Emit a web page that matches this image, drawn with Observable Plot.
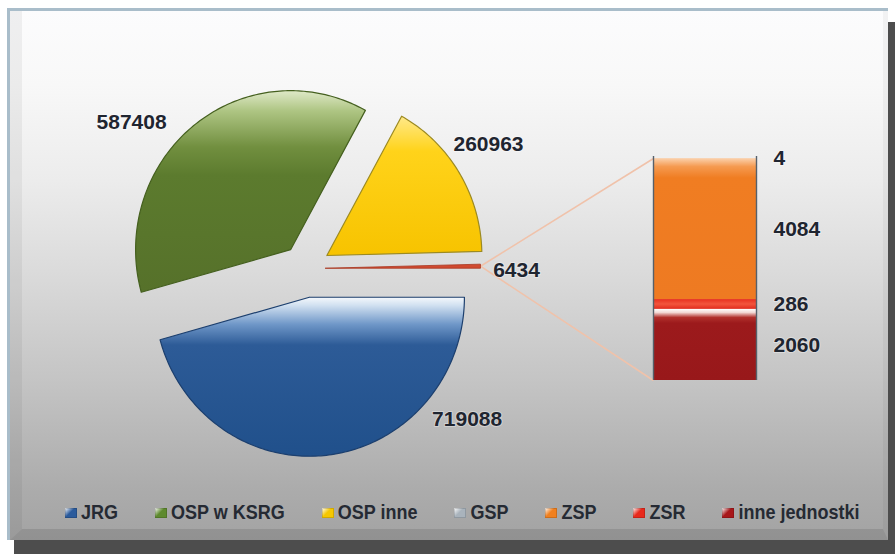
<!DOCTYPE html>
<html>
<head>
<meta charset="utf-8">
<script src="https://cdn.jsdelivr.net/npm/d3@7"></script>
<script src="https://cdn.jsdelivr.net/npm/@observablehq/plot@0.6"></script>
<style>
  html, body { margin: 0; padding: 0; width: 895px; height: 554px; background: #ffffff; overflow: hidden; }
  #frame {
    position: absolute; left: 7px; top: 8px; width: 881px; height: 532px; box-sizing: border-box;
    border-top: 3px solid #a9bdca; border-left: 3px solid #a9bdca;
    background: linear-gradient(to bottom, #fcfcfd 0%, #f8f8f8 14%, #ececec 32%, #dadada 50%, #c4c4c4 70%, #acacac 90%, #a3a3a3 100%);
    box-shadow: 7px 14px 0 #4d4d4d;
  }
  #bevel {
    position: absolute; left: 0; top: 0; right: 0; bottom: 0; box-sizing: border-box;
    border-left: 12px solid rgba(0,0,0,0.05); border-bottom: 11px solid rgba(0,0,0,0.10);
    border-right: 5px solid rgba(0,0,0,0.04);
  }
  #chart { position: absolute; left: 0; top: 0; }
  #legend {
    position: absolute; left: 65px; top: 498px; height: 28px; display: flex; align-items: center;
    font-family: "Liberation Sans", Arial, sans-serif;
    font-weight: bold; font-size: 18px; color: #252a33; white-space: nowrap;
  }
  .item { display: inline-flex; align-items: center; margin-right: 37px; }
  .sw { width: 12px; height: 10px; margin-right: 4px; margin-top: 2px; box-shadow: inset 0 0 0 1px rgba(0,0,0,0.15); }
  .tx { display: inline-block; transform: scaleY(1.15); }
</style>
</head>
<body>
<div id="frame"><div id="bevel"></div></div>
<div id="chart"></div>
<div id="legend"></div>
<script>
// ---- data ----
const pieCategories = ["JRG", "OSP w KSRG", "OSP inne", "pozostałe"];
const pieValues = [719088, 587408, 260963, 6434];
const barCategories = ["GSP", "ZSP", "ZSR", "inne jednostki"];
const barValues = [4, 4084, 286, 2060];
const legendLabels = ["JRG", "OSP w KSRG", "OSP inne", "GSP", "ZSP", "ZSR", "inne jednostki"];

// ---- styling / layout ----
const legendColors = ["#2b5b9c", "#5e8a2e", "#f6c700", "#a9b3bc", "#f0801f", "#e8291c", "#a8171a"];
const pieFills = ["url(#gBlue)", "url(#gGreen)", "url(#gYellow)", "#d04a30"];
const pieStrokes = ["#1c3f6e", "#45601f", "#9c8a22", "#a8361f"];
const barFills = ["#b9c0c6", "url(#gOrange)", "url(#gRed)", "url(#gDark)"];
const W = 895, H = 495;
const cx = 305, cy = 268, rx = 155, ry = 159;
const explode = [29, 24, 25, 20];
const labelAngle = [43.0, 220.0, 325.9, 0.5];
const labelDist = [221, 227, 221, 211];
const barLeft = 653, barRight = 756, barTop = 158, barBottom = 380, barLabelX = 773;
const fontFam = '"Liberation Sans", Arial, sans-serif';

// ---- pie geometry from values ----
const total = d3.sum(pieValues);
let acc = 0;
const slices = pieValues.map((v, i) => {
  const a0 = acc / total * 2 * Math.PI;
  acc += v;
  const a1 = acc / total * 2 * Math.PI;
  const mid = (a0 + a1) / 2;
  const ax = cx + explode[i] * Math.cos(mid), ay = cy + explode[i] * Math.sin(mid);
  const n = Math.max(2, Math.ceil((a1 - a0) / (Math.PI / 180)));
  const pts = [{x: ax, y: ay}];
  for (let k = 0; k <= n; k++) {
    const t = a0 + (a1 - a0) * k / n;
    pts.push({x: ax + rx * Math.cos(t), y: ay + ry * Math.sin(t)});
  }
  pts.push({x: ax, y: ay});
  const la = labelAngle[i] * Math.PI / 180;
  return {category: pieCategories[i], value: v, pts, ax, ay, mid,
          tip: {x: ax + rx * Math.cos(mid), y: ay + ry * Math.sin(mid)},
          lx: cx + labelDist[i] * Math.cos(la), ly: cy + labelDist[i] * Math.sin(la)};
});

// ---- bar geometry from values (stacked bottom-up, GSP on top) ----
const barTotal = d3.sum(barValues);
const yBar = d3.scaleLinear().domain([0, barTotal]).range([barBottom, barTop]);
let bacc = 0;
const segs = barValues.map((v, i) => ({category: barCategories[i], value: v})).reverse().map(d => {
  const s = {...d, y0: bacc, y1: bacc + d.value};
  bacc += d.value;
  return s;
}).reverse();
segs.forEach((s, j) => { s.fill = barFills[j]; s.py1 = yBar(s.y0); s.py2 = yBar(s.y1); s.pm = yBar((s.y0 + s.y1) / 2); });

const red = slices[3];
const connectors = [
  {x1: red.tip.x, y1: red.tip.y, x2: barLeft, y2: yBar(barTotal)},
  {x1: red.tip.x, y1: red.tip.y, x2: barLeft, y2: yBar(0)}
];

const marks = [];
marks.push(Plot.link(connectors, {x1: "x1", y1: "y1", x2: "x2", y2: "y2", stroke: "#f0c2aa", strokeWidth: 1.6}));
slices.forEach((s, i) => {
  marks.push(Plot.line(s.pts, {x: "x", y: "y", fill: pieFills[i], stroke: pieStrokes[i], strokeWidth: i === 3 ? 0.8 : 1.2, curve: "linear"}));
});
segs.forEach(s => {
  marks.push(Plot.rect([s], {x1: () => barLeft, x2: () => barRight, y1: "py1", y2: "py2", fill: s.fill}));
});
marks.push(Plot.ruleX([barLeft, barRight], {y1: yBar(0), y2: yBar(barTotal) - 2, stroke: "#56606a", strokeWidth: 1.4}));
const textOpts = {fontSize: 21, fontWeight: "bold", fontFamily: fontFam, fill: "#1f2530", stroke: "white", strokeOpacity: 0.35, strokeWidth: 2, paintOrder: "stroke"};
marks.push(Plot.text(slices, {x: "lx", y: "ly", text: d => String(d.value), textAnchor: "middle", ...textOpts}));
marks.push(Plot.text(segs, {x: () => barLabelX, y: "pm", text: d => String(d.value), textAnchor: "start", ...textOpts}));

const svg = Plot.plot({
  width: W, height: H, margin: 0,
  x: {domain: [0, W], range: [0, W], axis: null},
  y: {domain: [0, H], range: [0, H], axis: null},
  style: {background: "transparent", overflow: "visible"},
  marks
});

// gradients
const defs = `
<defs>
 <linearGradient id="gBlue" x1="0" y1="0" x2="0" y2="1">
  <stop offset="0" stop-color="#f5f8fc"/><stop offset="0.05" stop-color="#d2e1f1"/>
  <stop offset="0.17" stop-color="#6f97c8"/><stop offset="0.3" stop-color="#2d5b97"/>
  <stop offset="1" stop-color="#20508b"/>
 </linearGradient>
 <linearGradient id="gGreen" x1="0" y1="0" x2="0" y2="1">
  <stop offset="0" stop-color="#dfe9c8"/><stop offset="0.1" stop-color="#aec583"/>
  <stop offset="0.28" stop-color="#718f3f"/><stop offset="0.42" stop-color="#5c7b2e"/>
  <stop offset="1" stop-color="#56712a"/>
 </linearGradient>
 <linearGradient id="gYellow" x1="0" y1="0" x2="0" y2="1">
  <stop offset="0" stop-color="#ffe98a"/><stop offset="0.25" stop-color="#ffd31a"/>
  <stop offset="1" stop-color="#f7c300"/>
 </linearGradient>
 <linearGradient id="gOrange" x1="0" y1="0" x2="0" y2="1">
  <stop offset="0" stop-color="#fbd2ae"/><stop offset="0.06" stop-color="#f59a50"/>
  <stop offset="0.14" stop-color="#f07d22"/><stop offset="1" stop-color="#ee7a22"/>
 </linearGradient>
 <linearGradient id="gRed" x1="0" y1="0" x2="0" y2="1">
  <stop offset="0" stop-color="#e8301f"/><stop offset="0.5" stop-color="#f2553d"/>
  <stop offset="1" stop-color="#e12a1c"/>
 </linearGradient>
 <linearGradient id="gDark" x1="0" y1="0" x2="0" y2="1">
  <stop offset="0" stop-color="#ffffff"/><stop offset="0.05" stop-color="#f3d8d4"/>
  <stop offset="0.12" stop-color="#b1302c"/><stop offset="0.2" stop-color="#9c1a1c"/>
  <stop offset="1" stop-color="#98181a"/>
 </linearGradient>
</defs>`;
svg.insertAdjacentHTML("afterbegin", defs);
document.getElementById("chart").appendChild(svg);

// legend
const legend = document.getElementById("legend");
legendLabels.forEach((lab, i) => {
  const it = document.createElement("span");
  it.className = "item";
  const sw = document.createElement("span");
  sw.className = "sw";
  sw.style.background = `linear-gradient(135deg, #ffffff 0%, ${legendColors[i]} 45%, ${legendColors[i]} 100%)`;
  const tx = document.createElement("span");
  tx.className = "tx";
  tx.textContent = lab;
  it.appendChild(sw); it.appendChild(tx);
  legend.appendChild(it);
});
</script>
</body>
</html>
